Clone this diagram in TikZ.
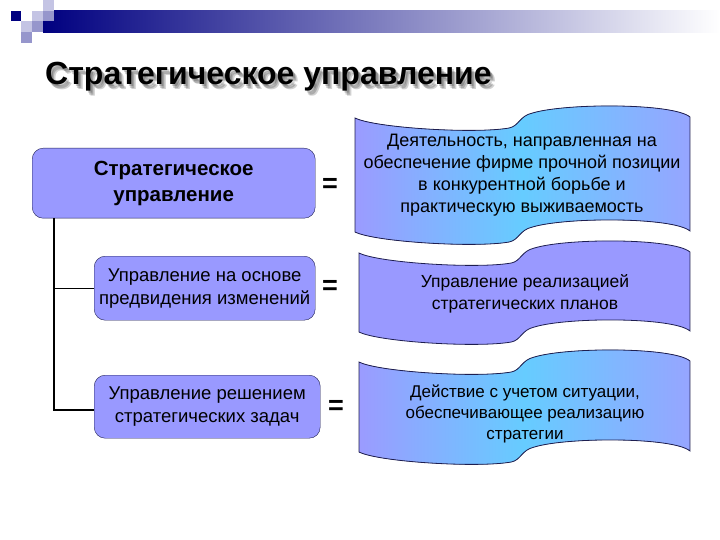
\documentclass[tikz,border=0pt]{standalone}
\usepackage{fontspec}
\setmainfont{Liberation Sans}
\definecolor{mynavy}{RGB}{0,0,128}
\definecolor{mylightlav}{RGB}{196,196,228}
\definecolor{mymidlav}{RGB}{150,150,204}
\definecolor{myboxfill}{RGB}{153,153,255}
\definecolor{myboxline}{RGB}{30,30,80}
\definecolor{mycyan}{RGB}{102,204,255}
\definecolor{mywavelav}{RGB}{155,155,255}
\definecolor{mywaveright}{RGB}{150,165,255}
\newcommand{\cell}{10.7}
\newcommand{\wavebanner}[5]{%
    \path[save path=\wavepath] (#1,#3)
        .. controls ({#1+0.06*#2},{#3+10}) and ({#1+0.36*#2},{#3+16}) .. ({#1+0.46*#2},{#3+10})
        .. controls ({#1+0.49*#2},{#3+8}) and ({#1+0.49*#2},{#3-2}) .. ({#1+0.53*#2},{#3-5})
        .. controls ({#1+0.63*#2},{#3-15}) and ({#1+0.95*#2},{#3-15}) .. ({#1+#2},{#3-1})
        -- ({#1+#2},{#3+#4-1})
        .. controls ({#1+0.95*#2},{#3+#4-15}) and ({#1+0.63*#2},{#3+#4-15}) .. ({#1+0.53*#2},{#3+#4-5})
        .. controls ({#1+0.49*#2},{#3+#4-2}) and ({#1+0.49*#2},{#3+#4+8}) .. ({#1+0.46*#2},{#3+#4+10})
        .. controls ({#1+0.36*#2},{#3+#4+16}) and ({#1+0.06*#2},{#3+#4+10}) .. (#1,{#3+#4})
        -- cycle;
    \begin{scope}
        \clip[use path=\wavepath];
        \fill[#5] (#1,{#3-20}) rectangle ({#1+#2},{#3+#4+20});
    \end{scope}
    \draw[wave, use path=\wavepath];}
\tikzset{
    titletext/.style={anchor=base west, inner sep=0pt, font=\bfseries\fontsize{32}{32}\selectfont},
    titleshade/.style={titletext, text=black, opacity=0.18},
    common/.style={draw=myboxline, fill=myboxfill, rounded corners=11pt, anchor=north west, align=center},
    topbox/.style={common, minimum width=283pt, minimum height=70pt, font=\bfseries\fontsize{20.5}{26}\selectfont},
    subbox/.style={common, minimum height=64pt, font=\fontsize{18.5}{23}\selectfont},
    equal/.style={font=\bfseries\fontsize{27}{27}\selectfont},
    wave/.style={draw=myboxline, line width=0.8pt},
    wavefill/.style={left color=mywavelav, right color=mywaveright, middle color=mycyan},
    wavetext/.style={align=center, font=\fontsize{18}{22}\selectfont},
    trunk/.style={line width=2.2pt},
    branch/.style={line width=0.9pt}
}
\begin{document}
\begin{tikzpicture}[x=1pt, y=-1pt]
    \useasboundingbox (0,0) rectangle (720,540);

    % header bar and squares
    \fill[left color=mynavy, right color=white] (43,10.7) rectangle (720,32.1);
    \fill[mynavy] (\cell,\cell) rectangle ++(\cell,\cell);
    \fill[mylightlav] (3*\cell,\cell) rectangle ++(\cell,\cell);
    \fill[mylightlav] (4*\cell,0) rectangle ++(\cell,\cell);
    \fill[mymidlav] (4*\cell,\cell) rectangle ++(\cell,\cell);
    \fill[mylightlav] (2*\cell,2*\cell) rectangle ++(\cell,\cell);
    \fill[mymidlav] (3*\cell,2*\cell) rectangle ++(\cell,\cell);
    \fill[mymidlav] (2*\cell,3*\cell) rectangle ++(\cell,\cell);

    % title with soft shadow
    \node[titleshade] (shadowa) at (47,87) {Стратегическое управление};
    \node[titleshade] (shadowb) at (48,88.5) {Стратегическое управление};
    \node[titleshade] (shadowc) at (49.5,89.5) {Стратегическое управление};
    \node[titletext] (title) at (45,85) {Стратегическое управление};

    % left column
    \node[topbox] (main) at (32,148) {Стратегическое\\управление};
    \node[subbox, minimum width=221pt] (sub1) at (94,256) {Управление на основе\\предвидения изменений};
    \node[subbox, minimum width=226pt, minimum height=63pt] (sub2) at (94,375) {Управление решением\\стратегических задач};

    \coordinate (trunk) at ([xshift=22pt]main.south west);
    \draw[trunk] (trunk) |- ([yshift=-3pt]sub2.west);
    \draw[branch] (trunk |- sub1.west) -- (sub1.west);

    % equal signs
    \node[equal] (eq1) at (330,185) {=};
    \node[equal] (eq2) at (330,287) {=};
    \node[equal] (eq3) at (336,407) {=};

    % right column
    \wavebanner{355}{335}{118}{114}{wavefill}
    \wavebanner{359}{331}{253}{79}{myboxfill}
    \wavebanner{359}{331}{362}{90}{wavefill}

    \node[wavetext] (def1) at (522,175) {Деятельность, направленная на\\обеспечение фирме прочной позиции\\в конкурентной борьбе и\\практическую выживаемость};
    \node[wavetext, font=\fontsize{17.5}{22}\selectfont] (def2) at (525,294) {Управление реализацией\\стратегических планов};
    \node[wavetext, font=\fontsize{17}{21}\selectfont] (def3) at (525,414) {Действие с учетом ситуации,\\обеспечивающее реализацию\\стратегии};
\end{tikzpicture}
\end{document}
